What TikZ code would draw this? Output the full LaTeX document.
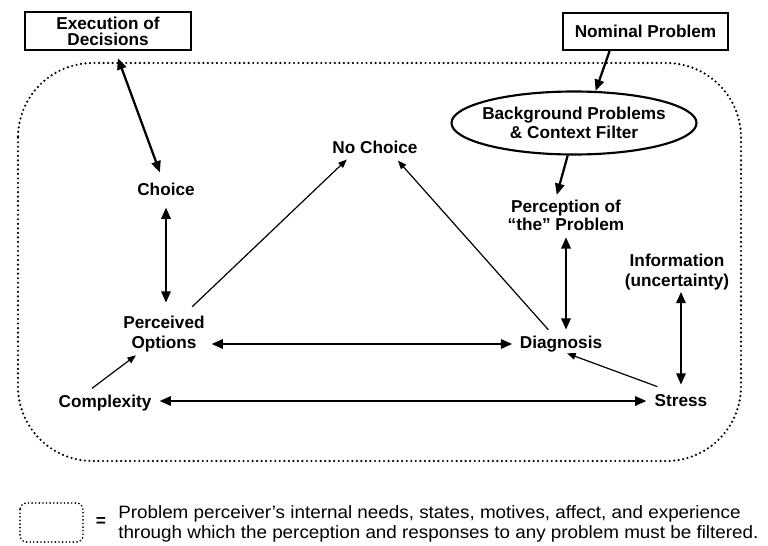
\documentclass[tikz,border=0pt]{standalone}
\usepackage{fontspec}
\setmainfont{Liberation Sans}
\usetikzlibrary{arrows.meta,shapes.geometric,calc}
\begin{document}
\begin{tikzpicture}[x=0.75pt,y=-0.75pt,
  lbl/.style={inner sep=0pt, align=center, font=\bfseries\fontsize{12.9}{14}\selectfont},
  boxnode/.style={draw, line width=1.6pt, inner sep=0pt, align=center, font=\bfseries\fontsize{12.9}{14}\selectfont},
  dbl/.style={{Triangle[length=8.5pt,width=7pt]}-{Triangle[length=8.5pt,width=7pt]}, line width=1.7pt},
  sgl/.style={-{Triangle[length=8.5pt,width=7pt]}, line width=1.7pt},
  thinarr/.style={-{Triangle[length=6.5pt,width=5pt]}, line width=0.9pt},
  dots/.style={line width=1.8pt, line cap=round, dash pattern=on 0pt off 3.4pt}
]
\useasboundingbox (0,0) rectangle (768,546);

% filter boundary
\draw[dots, rounded corners=56pt] (18,63) rectangle (741,461);

% boxes
\node[boxnode, minimum width=124.5pt, minimum height=28.5pt, font=\bfseries\fontsize{12.9}{12}\selectfont] (exec) at (108,31) {Execution of\\Decisions};
\node[boxnode, minimum width=123.75pt, minimum height=27.75pt] (nominal) at (645.5,31.5) {Nominal Problem};
\node[ellipse, draw, line width=1.6pt, minimum width=183.75pt, minimum height=47.25pt, inner xsep=-8pt, inner ysep=0pt, align=center, font=\bfseries\fontsize{12.9}{14.25}\selectfont] (filter) at (574,123) {Background Problems\\\& Context Filter};

% labels
\node[lbl] (choice) at (166,189) {Choice};
\node[lbl] (nochoice) at (375,147) {No Choice};
\node[lbl, font=\bfseries\fontsize{12.9}{13.5}\selectfont] (perception) at (566,215.6) {Perception of\\“the” Problem};
\node[lbl, font=\bfseries\fontsize{12.9}{15}\selectfont] (perceived) at (164,333.6) {Perceived\\Options};
\node[lbl] (diagnosis) at (561,344) {Diagnosis};
\node[lbl] (complexity) at (105,402.6) {Complexity};
\node[lbl] (stress) at (681,401) {Stress};
\node[lbl, font=\bfseries\fontsize{12.9}{15}\selectfont] (info) at (677,271.6) {Information\\(uncertainty)};

% connectors
\draw[dbl, shorten <=5.6pt, shorten >=8pt] (exec) -- (choice);
\draw[dbl, shorten <=9pt, shorten >=9.5pt] (choice.south) -- (choice.south |- perceived.north);
\draw[thinarr, shorten <=9.3pt, shorten >=6.4pt] (perceived) -- ([xshift=-16.5pt]nochoice.south);
\draw[thinarr, shorten <=6pt, shorten >=7pt] (diagnosis) -- ([xshift=12.5pt]nochoice.south);
\draw[dbl, shorten <=5pt, shorten >=5.6pt] (perceived.east |- diagnosis.west) -- (diagnosis.west);
\draw[thinarr] ($(complexity.north)+(-13,-6)$) -- ($(perceived.south)+(-28,3.4)$);
\draw[dbl, shorten <=6pt, shorten >=6pt] (complexity.east |- stress.west) -- (stress.west);
\draw[thinarr] ($(stress.north west)+(3,-8)$) -- ($(diagnosis.south)+(6,1)$);
\draw[dbl, shorten <=1.5pt, shorten >=7.5pt] (stress.north |- info.south) -- (stress.north);
\draw[dbl, shorten <=4.5pt, shorten >=4.5pt] (perception.south) -- (perception.south |- diagnosis.north);
\draw[sgl, shorten >=4pt] (filter.-101) -- ([xshift=-8pt]perception.north);
\draw[sgl] ($(nominal.south west)!0.285!(nominal.south east)$) -- (filter.56);

% legend
\draw[dots, line width=1.4pt, dash pattern=on 0pt off 2.7pt, rounded corners=5pt] (20,503) rectangle (83,542);
\node[inner sep=0pt, font=\bfseries\fontsize{13}{13}\selectfont] (eq) at (101,522) {=};
\node[anchor=west, align=left, inner sep=0pt, font=\fontsize{13.4}{15}\selectfont] (legtext) at (118,523.5) {\scalebox{1.055}[1]{Problem perceiver’s internal needs, states, motives, affect, and experience}\\\scalebox{1.055}[1]{through which the perception and responses to any problem must be filtered.}};
\end{tikzpicture}
\end{document}
